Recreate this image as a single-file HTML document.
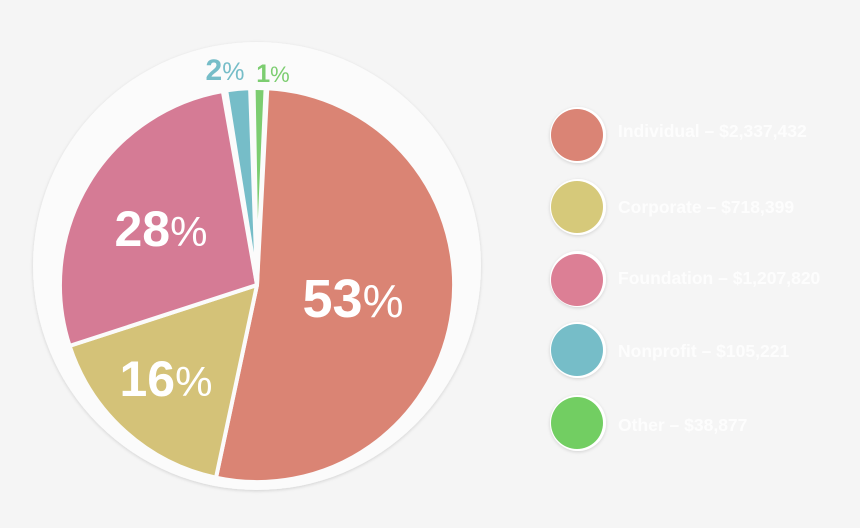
<!DOCTYPE html>
<html><head><meta charset="utf-8"><style>
html,body{margin:0;padding:0;background:#f5f5f5;}
svg{display:block;}
</style></head><body>
<svg width="860" height="528" viewBox="0 0 860 528" xmlns="http://www.w3.org/2000/svg">
<defs>
<filter id="sh" x="-10%" y="-10%" width="120%" height="120%"><feDropShadow dx="0" dy="1" stdDeviation="1.5" flood-color="#000" flood-opacity="0.15"/></filter>
</defs>
<rect width="860" height="528" fill="#f5f5f5"/>
<circle cx="257" cy="266" r="224" fill="#fbfbfb" filter="url(#sh)"/>
<g stroke="#fbfbfb" stroke-width="4" stroke-linejoin="round">
<path d="M257,285 L267.3,88.3 A197,197 0 1 1 216.0,477.7 Z" fill="#da8474"/>
<path d="M257,285 L216.0,477.7 A197,197 0 0 1 69.6,345.9 Z" fill="#d4c278"/>
<path d="M257,285 L69.6,345.9 A197,197 0 0 1 222.8,91.0 Z" fill="#d57b95"/>
<path d="M257,285 L226.2,90.4 A197,197 0 0 1 250.1,88.1 Z" fill="#76bdc8"/>
<path d="M257,285 L253.6,88.0 A197,197 0 0 1 265.6,88.2 Z" fill="#7ccd70"/>
</g>
<g font-family="Liberation Sans, sans-serif" font-weight="bold" fill="#fff" text-anchor="middle">
<text x="353" y="317" font-size="54">53<tspan font-weight="normal" font-size="46">%</tspan></text>
<text x="161" y="246" font-size="50">28<tspan font-weight="normal" font-size="42">%</tspan></text>
<text x="166" y="396" font-size="50">16<tspan font-weight="normal" font-size="42">%</tspan></text>
<text x="225" y="80" font-size="30" fill="#76bdc8">2<tspan font-weight="normal" font-size="25">%</tspan></text>
<text x="273" y="82" font-size="25" fill="#7ccd70">1<tspan font-weight="normal" font-size="22">%</tspan></text>
</g>
<g filter="url(#sh)">
<circle cx="578" cy="135" r="28" fill="#fff"/><circle cx="577" cy="135" r="26" fill="#da8474"/>
<circle cx="578" cy="207" r="28" fill="#fff"/><circle cx="577" cy="207" r="26" fill="#d6c97a"/>
<circle cx="578" cy="279" r="28" fill="#fff"/><circle cx="577" cy="280" r="26" fill="#dc7f95"/>
<circle cx="578" cy="350" r="28" fill="#fff"/><circle cx="577" cy="350" r="26" fill="#76bdc8"/>
<circle cx="578" cy="423" r="28" fill="#fff"/><circle cx="577" cy="423" r="26" fill="#72ce62"/>
</g>
<g font-family="Liberation Sans, sans-serif" font-weight="bold" font-size="17.5" fill="#fdfdfd">
<text x="618" y="137">Individual – $2,337,432</text>
<text x="618" y="213">Corporate – $718,399</text>
<text x="618" y="284">Foundation – $1,207,820</text>
<text x="618" y="357">Nonprofit – $105,221</text>
<text x="618" y="431">Other – $38,877</text>
</g>
</svg>
</body></html>
